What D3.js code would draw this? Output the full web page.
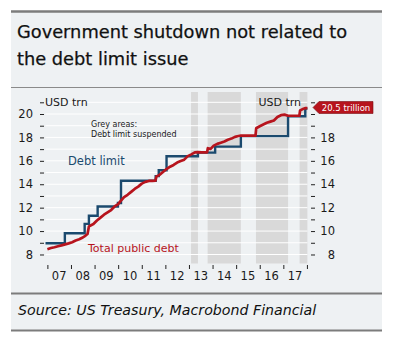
<!DOCTYPE html>
<html><head><meta charset="utf-8">
<script src="https://cdn.jsdelivr.net/npm/d3@7"></script>
<style>
html,body{margin:0;padding:0;background:#fff;}
svg text{font-family:"DejaVu Sans",sans-serif;}
</style></head>
<body>
<svg id="c" width="396" height="348"></svg>
<script>
// ---- data ----
const titleLines = ["Government shutdown not related to", "the debt limit issue"];
const sourceText = "Source: US Treasury, Macrobond Financial";
const yearTicks = [2007,2008,2009,2010,2011,2012,2013,2014,2015,2016,2017,2018];
const yearLabels = ["07","08","09","10","11","12","13","14","15","16","17"];
const leftTicks = [8,9,10,11,12,13,14,15,16,17,18,19,20,21];
const leftLabels = [8,10,12,14,16,18,20];
const rightLabels = [8,10,12,14,16,18];
// periods with debt limit suspended [start, end] (decimal years)
const suspendStart = [2013.09, 2013.79, 2015.84, 2017.69];
const suspendEnd   = [2013.38, 2015.20, 2017.20, 2018.02];
// debt limit (step) : date of change, new limit (USD trn)
const limitDates  = [2006.92, 2007.74, 2008.58, 2008.76, 2009.13, 2009.99, 2010.12, 2011.59, 2011.72, 2012.05, 2013.38, 2014.11, 2015.20, 2017.20, 2017.93, 2018.02];
const limitValues = [8.965, 9.815, 10.615, 11.315, 12.104, 12.394, 14.294, 14.694, 15.194, 16.394, 16.699, 17.212, 18.113, 19.809, 20.456, 20.456];
// total public debt (USD trn)
const debtDates  = [2007.00,2007.15,2007.30,2007.45,2007.60,2007.75,2007.90,2008.05,2008.20,2008.35,2008.50,2008.62,2008.70,2008.76,2008.85,2008.95,2009.10,2009.25,2009.40,2009.55,2009.70,2009.85,2010.00,2010.10,2010.25,2010.40,2010.55,2010.70,2010.85,2011.00,2011.15,2011.30,2011.45,2011.58,2011.62,2011.75,2011.90,2012.05,2012.20,2012.35,2012.50,2012.65,2012.80,2012.95,2013.10,2013.25,2013.38,2013.55,2013.77,2013.80,2013.92,2014.05,2014.20,2014.35,2014.50,2014.65,2014.80,2014.95,2015.10,2015.20,2015.50,2015.82,2015.85,2016.00,2016.15,2016.30,2016.45,2016.60,2016.75,2016.90,2017.05,2017.20,2017.45,2017.68,2017.71,2017.80,2017.92,2018.02];
const debtValues = [8.45,8.55,8.62,8.70,8.78,8.86,8.95,9.05,9.20,9.30,9.45,9.62,9.75,10.40,10.50,10.60,10.90,11.15,11.40,11.60,11.80,12.10,12.30,12.55,12.90,13.10,13.35,13.60,13.80,14.05,14.20,14.28,14.29,14.30,14.65,14.80,15.05,15.30,15.50,15.65,15.85,15.98,16.10,16.40,16.55,16.72,16.74,16.72,16.73,17.08,17.02,17.30,17.45,17.55,17.65,17.80,17.90,18.05,18.12,18.15,18.15,18.15,18.78,18.95,19.10,19.25,19.35,19.45,19.75,19.90,19.95,19.85,19.85,19.85,20.30,20.40,20.50,20.50];
const calloutText = "20.5 trillion";

// ---- drawing ----
const svg = d3.select("#c");
const C = {bg:"#eef1f3", band:"#d9d9d9", blue:"#1b4a6e", red:"#b7141d", rule:"#7c7c7c", text:"#1a1a1a"};

svg.append("rect").attr("x",11).attr("y",11).attr("width",371).attr("height",320).attr("fill",C.bg);
svg.append("line").attr("x1",11).attr("x2",382).attr("y1",11.5).attr("y2",11.5).attr("stroke",C.rule).attr("stroke-width",2.5);
svg.append("line").attr("x1",11).attr("x2",382).attr("y1",87.5).attr("y2",87.5).attr("stroke","#8a8a8a").attr("stroke-width",1);
svg.append("line").attr("x1",11).attr("x2",382).attr("y1",293.5).attr("y2",293.5).attr("stroke",C.rule).attr("stroke-width",2);
svg.append("line").attr("x1",11).attr("x2",382).attr("y1",330.5).attr("y2",330.5).attr("stroke",C.rule).attr("stroke-width",2);

svg.selectAll("text.title").data(titleLines).join("text").attr("class","title")
  .attr("x",17).attr("y",(d,i)=>37.5+i*27).attr("font-size",17.8).attr("fill","#111")
  .attr("stroke","#111").attr("stroke-width",0.25).text(d=>d);
svg.append("text").attr("x",18).attr("y",315).attr("font-size",14.2).attr("font-style","italic").attr("fill","#111").text(sourceText);

const x = d3.scaleLinear().domain([2006.92, 2018.02]).range([45.5, 307.4]);
const y = d3.scaleLinear().domain([7.23, 21.88]).range([263.5, 92]);

// bands
svg.selectAll("rect.band").data(suspendStart).join("rect").attr("class","band")
  .attr("x",(d)=>x(d)).attr("width",(d,i)=>x(suspendEnd[i])-x(d))
  .attr("y",y(21.88)).attr("height",y(7.23)-y(21.88)).attr("fill",C.band);

// gridlines
svg.selectAll("line.grid").data(leftTicks).join("line").attr("class","grid")
  .attr("x1",x(2006.92)).attr("x2",x(2018.02)).attr("y1",d=>y(d)).attr("y2",d=>y(d))
  .attr("stroke","#fff").attr("stroke-width",1);

// left axis
const leftAxis = d3.axisLeft(y).tickValues(leftTicks).tickSize(4).tickPadding(7)
  .tickFormat(d=>leftLabels.includes(d)?d:"");
const gl = svg.append("g").attr("transform","translate(44,0)").call(leftAxis);
gl.select(".domain").remove();
gl.selectAll("line").attr("stroke","#222");
gl.selectAll("text").attr("font-size",11.5).attr("fill",C.text).attr("font-family","DejaVu Sans");

// right axis
const rightAxis = d3.axisRight(y).tickValues(leftTicks).tickSize(4).tickPadding(0)
  .tickFormat(d=>rightLabels.includes(d)?d:"");
const gr = svg.append("g").attr("transform","translate(311,0)").call(rightAxis);
gr.select(".domain").remove();
gr.selectAll("line").attr("stroke","#222");
gr.selectAll("text").attr("font-size",11.5).attr("fill",C.text).attr("font-family","DejaVu Sans")
  .attr("text-anchor","end").attr("x",24);

// x axis
const xAxis = d3.axisBottom(x).tickValues(yearTicks).tickSize(4).tickFormat("");
const gx = svg.append("g").attr("transform","translate(0,265)").call(xAxis);
gx.select(".domain").remove();
gx.selectAll("line").attr("stroke","#222");
svg.selectAll("text.xl").data(yearLabels).join("text").attr("class","xl")
  .attr("x",(d,i)=>x(yearTicks[i]+0.5)).attr("y",280).attr("text-anchor","middle")
  .attr("font-size",11.5).attr("fill",C.text).text(d=>d);

// unit labels
svg.append("text").attr("x",45).attr("y",105.5).attr("font-size",11).attr("fill",C.text).text("USD trn");
svg.append("text").attr("x",301).attr("y",106).attr("text-anchor","end").attr("font-size",11).attr("fill",C.text).text("USD trn");

// lines
const limitPts = limitDates.map((d,i)=>[d,limitValues[i]]);
svg.append("path").datum(limitPts)
  .attr("d",d3.line().x(d=>x(d[0])).y(d=>y(d[1])).curve(d3.curveStepAfter))
  .attr("fill","none").attr("stroke",C.blue).attr("stroke-width",2.4);
const debtPts = debtDates.map((d,i)=>[d,debtValues[i]]);
svg.append("path").datum(debtPts)
  .attr("d",d3.line().x(d=>x(d[0])).y(d=>y(d[1])))
  .attr("fill","none").attr("stroke",C.red).attr("stroke-width",2.7).attr("stroke-linejoin","round");

// annotations
svg.append("text").attr("x",91).attr("y",127).attr("font-size",8).attr("fill",C.text).text("Grey areas:");
svg.append("text").attr("x",91).attr("y",137).attr("font-size",8).attr("fill",C.text).text("Debt limit suspended");
svg.append("text").attr("x",68).attr("y",165).attr("font-size",11.5).attr("fill",C.blue).text("Debt limit");
svg.append("text").attr("x",88).attr("y",252).attr("font-size",11).attr("fill",C.red).text("Total public debt");

// callout
const cy = 107.5;
svg.append("path").attr("d",`M313,${cy} L319,${cy-6} L373,${cy-6} L373,${cy+6} L319,${cy+6} Z`)
  .attr("fill",C.red).attr("stroke","#7a0d12").attr("stroke-width",0.6);
svg.append("text").attr("x",346).attr("y",cy+3).attr("text-anchor","middle").attr("font-size",8.5)
  .attr("fill","#fff").text(calloutText);
</script>
</body></html>
